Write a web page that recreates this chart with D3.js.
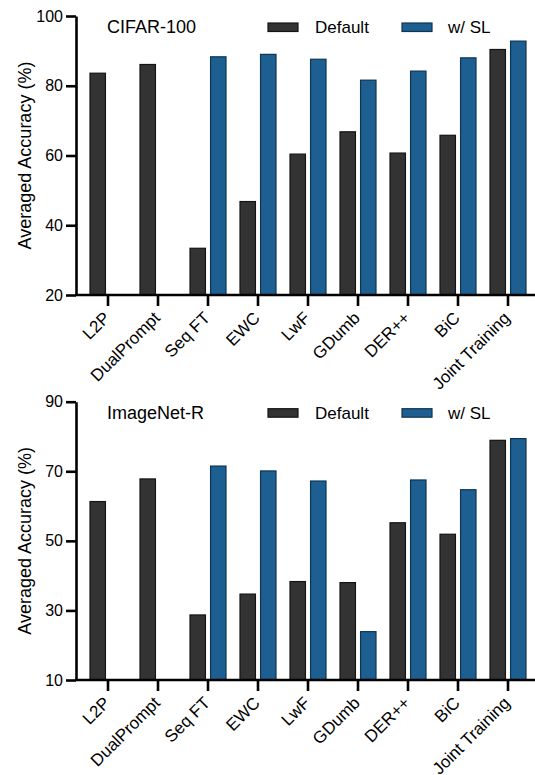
<!DOCTYPE html>
<html><head><meta charset="utf-8">
<script src="https://cdn.jsdelivr.net/npm/d3@7/dist/d3.min.js"></script>
<style>
body{margin:0;background:#fff;}
svg{display:block;font-family:"Liberation Sans",Arial,Helvetica,sans-serif;}
</style></head>
<body><svg id="c" width="535" height="775"></svg>
<script>
const categories = ["L2P","DualPrompt","Seq FT","EWC","LwF","GDumb","DER++","BiC","Joint Training"];
const seriesNames = ["Default","w/ SL"];
const cifarDefault = [83.6, 86.1, 33.4, 46.8, 60.4, 66.8, 60.7, 65.8, 90.4];
const cifarSL      = [null, null, 88.3, 89.0, 87.6, 81.6, 84.2, 88.0, 92.8];
const cifarTicks = [20, 40, 60, 80, 100];
const imnetDefault = [61.3, 67.8, 28.7, 34.7, 38.3, 38.0, 55.2, 51.9, 78.9];
const imnetSL      = [null, null, 71.5, 70.1, 67.2, 23.9, 67.5, 64.7, 79.4];
const imnetTicks = [10, 30, 50, 70, 90];

const fills = ["#333333", "#1c5f90"];
const strokes = ["#141414", "#0f3552"];

const svg = d3.select("#c");

function panel(top, bottom, title, defVals, slVals, ticks) {
  const g = svg.append("g");
  const x = d3.scaleBand().domain(categories).range([83, 533]).paddingInner(0.26).paddingOuter(0.13);
  const x1 = d3.scaleBand().domain(seriesNames).range([0, x.bandwidth()]).paddingInner(0.2);
  const y = d3.scaleLinear().domain([ticks[0], ticks[ticks.length-1]]).range([bottom, top]);

  const data = [];
  categories.forEach((c, i) => {
    [defVals[i], slVals[i]].forEach((v, j) => {
      if (v != null) data.push({c, s: seriesNames[j], v, j});
    });
  });
  g.selectAll("rect.bar").data(data).enter().append("rect")
    .attr("class", "bar")
    .attr("x", d => x(d.c) + x1(d.s) + 0.5)
    .attr("width", x1.bandwidth() - 1)
    .attr("y", d => y(d.v))
    .attr("height", d => y(ticks[0]) - y(d.v))
    .attr("fill", d => fills[d.j])
    .attr("stroke", d => strokes[d.j])
    .attr("stroke-width", 1.2);

  // y axis
  const ya = g.append("g").attr("transform", "translate(76,0)")
    .call(d3.axisLeft(y).tickValues(ticks).tickSize(10).tickPadding(3).tickSizeOuter(0));
  ya.select(".domain").attr("stroke", "#000").attr("stroke-width", 2.6);
  ya.selectAll(".tick line").attr("stroke", "#000").attr("stroke-width", 2.6);
  ya.selectAll(".tick text").attr("font-size", 16).attr("fill", "#000")
    .attr("font-family", "Liberation Sans, Arial, sans-serif");

  // x axis
  const xa = g.append("g").attr("transform", `translate(0,${bottom})`)
    .call(d3.axisBottom(x).tickSize(11).tickSizeOuter(0));
  xa.select(".domain").attr("d", `M75,0H535`).attr("stroke", "#000").attr("stroke-width", 2.6);
  xa.selectAll(".tick line").attr("stroke", "#000").attr("stroke-width", 2.6);
  xa.selectAll(".tick text").attr("font-size", 17).attr("fill", "#000")
    .attr("font-family", "Liberation Sans, Arial, sans-serif")
    .attr("text-anchor", "end")
    .attr("y", 0).attr("dy", 0)
    .attr("transform", "translate(3,24) rotate(-45)");

  // title
  g.append("text").attr("x", 107).attr("y", top + 17).attr("font-size", 18).text(title);

  // legend
  const lx = [268, 402], tx = [315, 448];
  seriesNames.forEach((s, j) => {
    g.append("rect").attr("x", lx[j]).attr("y", top + 7).attr("width", 30).attr("height", 8.5)
      .attr("fill", fills[j]).attr("stroke", strokes[j]).attr("stroke-width", 1.2);
    g.append("text").attr("x", tx[j]).attr("y", top + 17).attr("font-size", 17).text(s);
  });

  // y label
  g.append("text").attr("transform", `translate(31,${(top + bottom) / 2}) rotate(-90)`)
    .attr("text-anchor", "middle").attr("font-size", 18).text("Averaged Accuracy (%)");
}

panel(16, 295, "CIFAR-100", cifarDefault, cifarSL, cifarTicks);
panel(401.7, 680, "ImageNet-R", imnetDefault, imnetSL, imnetTicks);
</script></body></html>
